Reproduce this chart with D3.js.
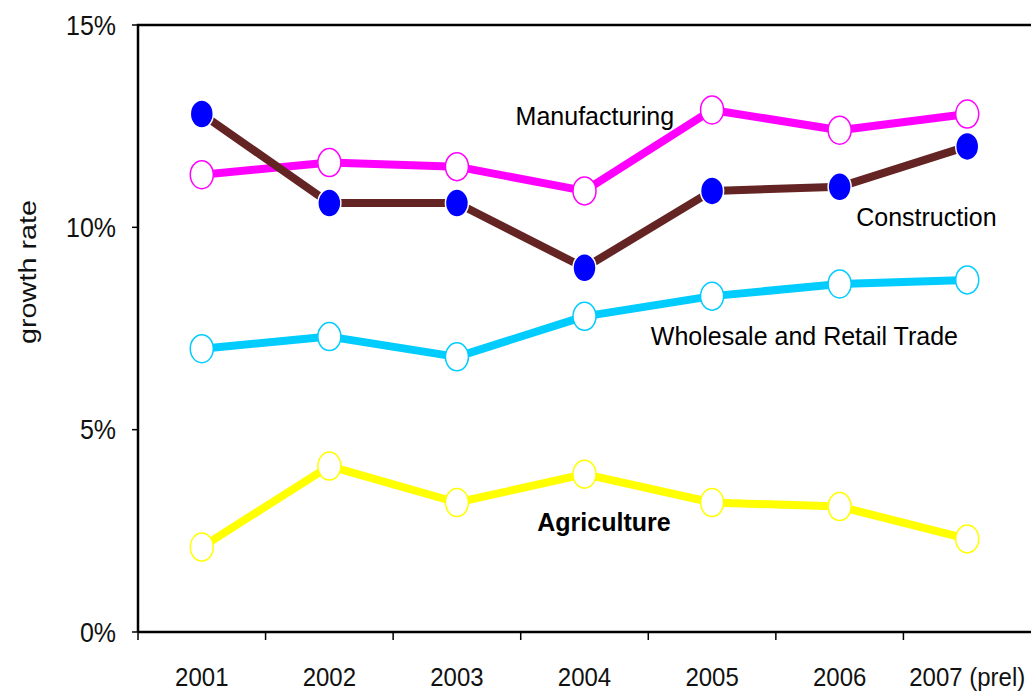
<!DOCTYPE html>
<html lang="en">
<head>
    <meta charset="utf-8">
    <title>Growth rate by sector</title>
    <script type="text/javascript" src="https://d3js.org/d3.v7.min.js"></script>
    <style type="text/css">
        body { margin: 0; background: #fff; }
        text { font-family: "Liberation Sans", Arial, sans-serif; }
    </style>
</head>
<body>
<script type="text/javascript">

var years = ["2001", "2002", "2003", "2004", "2005", "2006", "2007 (prel)"];
var yTicks = [0, 5, 10, 15];

var manufacturing = [11.3, 11.6, 11.5, 10.9, 12.9, 12.4, 12.8];
var construction  = [12.8, 10.6, 10.6, 9.0, 10.9, 11.0, 12.0];
var wholesale     = [7.0, 7.3, 6.8, 7.8, 8.3, 8.6, 8.7];
var agriculture   = [2.1, 4.1, 3.2, 3.9, 3.2, 3.1, 2.3];

var width = 1031, height = 691;
var plotLeft = 138, plotTop = 25, plotBottom = 632, plotRight = 1031;

var svg = d3.select("body").append("svg")
    .attr("width", width)
    .attr("height", height);

var x = d3.scaleBand().domain(years).range([plotLeft, plotRight]);
var y = d3.scaleLinear().domain([0, 15]).range([plotBottom, plotTop]);

function cx(i) { return x(years[i]) + x.bandwidth() / 2; }
// fractional category position, used for the text annotations
var xi = d3.scaleLinear().domain([0, 6]).range([cx(0), cx(6)]);

// frame (right edge falls outside the picture)
svg.append("path")
    .attr("d", "M" + plotLeft + "," + plotBottom + "V" + plotTop + "H" + (plotRight + 5))
    .attr("fill", "none").attr("stroke", "#000").attr("stroke-width", 2.5);
svg.append("line")
    .attr("x1", plotLeft).attr("x2", plotRight + 5).attr("y1", plotBottom).attr("y2", plotBottom)
    .attr("stroke", "#000").attr("stroke-width", 2.5);

// y ticks
svg.selectAll(".ytick").data(yTicks).enter().append("line")
    .attr("x1", plotLeft - 6).attr("x2", plotLeft)
    .attr("y1", function(d) { return y(d); }).attr("y2", function(d) { return y(d); })
    .attr("stroke", "#000").attr("stroke-width", 1.5);

svg.selectAll(".ylab").data(yTicks).enter().append("text")
    .attr("transform", function(d) { return "translate(116," + (y(d) + 9.5) + ") scale(1,1.1)"; })
    .attr("text-anchor", "end")
    .attr("font-size", 25)
    .attr("fill", "#111")
    .text(function(d) { return d + "%"; });

// x ticks at category boundaries
svg.selectAll(".xtick").data(years).enter().append("line")
    .attr("x1", function(d) { return x(d); }).attr("x2", function(d) { return x(d); })
    .attr("y1", plotBottom).attr("y2", plotBottom + 8)
    .attr("stroke", "#000").attr("stroke-width", 1.5);

svg.selectAll(".xlab").data(years).enter().append("text")
    .attr("transform", function(d) { return "translate(" + (x(d) + x.bandwidth() / 2) + ",686) scale(1,1.1)"; })
    .attr("text-anchor", "middle")
    .attr("font-size", 24)
    .attr("fill", "#111")
    .text(function(d) { return d; });

svg.append("text")
    .attr("transform", "translate(36,272) rotate(-90) scale(1.2,1)")
    .attr("text-anchor", "middle")
    .attr("font-size", 24)
    .attr("fill", "#111")
    .text("growth rate");

var line = d3.line()
    .x(function(d, i) { return cx(i); })
    .y(function(d) { return y(d); });

function drawSeries(vals, lineColor, fill, stroke) {
    svg.append("path")
        .attr("d", line(vals))
        .attr("fill", "none")
        .attr("stroke", lineColor)
        .attr("stroke-width", 8)
        .attr("stroke-linejoin", "round");
    svg.append("g").selectAll("ellipse").data(vals).enter().append("ellipse")
        .attr("cx", function(d, i) { return cx(i); })
        .attr("cy", function(d) { return y(d); })
        .attr("rx", 11.5).attr("ry", 14)
        .attr("fill", fill)
        .attr("stroke", stroke)
        .attr("stroke-width", 1.5);
}

drawSeries(agriculture, "#ffff00", "#fff", "#ffff00");
drawSeries(wholesale, "#00ccff", "#fff", "#00ccff");
drawSeries(manufacturing, "#ff00ff", "#fff", "#ff00ff");
drawSeries(construction, "#632423", "#0000ff", "#fff");

function label(txt, at, val, bold) {
    svg.append("text")
        .attr("x", xi(at)).attr("y", y(val))
        .attr("font-size", 25)
        .attr("font-weight", bold ? "bold" : "normal")
        .attr("fill", "#000")
        .text(txt);
}

label("Manufacturing", 2.46, 12.52, false);
label("Construction", 5.13, 10.03, false);
label("Wholesale and Retail Trade", 3.52, 7.09, false);
label("Agriculture", 2.63, 2.5, true);

</script>
</body>
</html>
